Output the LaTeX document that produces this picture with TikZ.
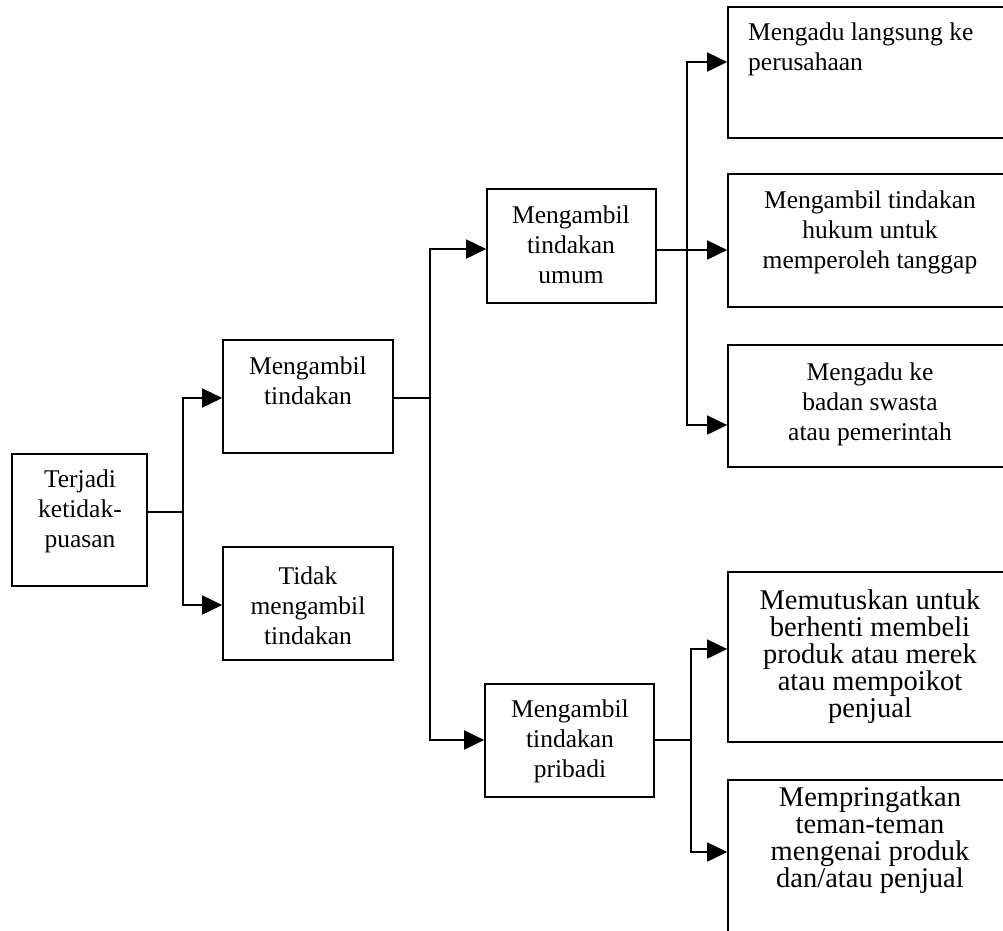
\documentclass[tikz,border=0pt]{standalone}
\usepackage{fontspec}
\setmainfont{Liberation Serif}
\usetikzlibrary{arrows.meta}
\begin{document}
\begin{tikzpicture}[x=1pt,y=-1pt,
  box/.style={draw, line width=1.6pt, rectangle, inner sep=0pt},
  txt/.style={font=\fontsize{25.5}{30}\selectfont, align=center, inner sep=0pt},
  bigtxt/.style={font=\fontsize{28.5}{27}\selectfont, align=center, inner sep=0pt},
  conn/.style={line width=1.6pt},
  arr/.style={line width=1.6pt, -{Triangle[length=20pt,width=19pt]}}]
\path[use as bounding box, clip] (0,0) rectangle (1003,930);
% boxes
\node[box, minimum width=135pt, minimum height=132pt] (b1) at (79.5,520) {};
\node[box, minimum width=170pt, minimum height=113pt] (b2) at (308,396.5) {};
\node[box, minimum width=170pt, minimum height=113pt] (b3) at (308,603.5) {};
\node[box, minimum width=169pt, minimum height=114pt] (b4) at (571.5,246) {};
\node[box, minimum width=169pt, minimum height=113pt] (b5) at (569.5,740.5) {};
\node[box, minimum width=282pt, minimum height=131pt] (b6) at (869,72.5) {};
\node[box, minimum width=282pt, minimum height=133pt] (b7) at (869,240.5) {};
\node[box, minimum width=282pt, minimum height=122pt] (b8) at (869,406) {};
\node[box, minimum width=282pt, minimum height=170pt] (b9) at (869,657) {};
\node[box, minimum width=282pt, minimum height=170pt] (b10) at (869,865) {};
% texts
\node[txt] (t1) at (80,511) {Terjadi\\ketidak-\\puasan};
\node[txt] (t2) at (308,381) {Mengambil\\tindakan};
\node[txt] (t3) at (308,606) {Tidak\\mengambil\\tindakan};
\node[txt] (t4) at (571,245) {Mengambil\\tindakan\\umum};
\node[txt] (t5) at (570,741) {Mengambil\\tindakan\\pribadi};
\node[txt, align=left, anchor=west] (t6) at (748,49) {Mengadu langsung ke\\perusahaan};
\node[txt] (t7) at (870,232) {Mengambil tindakan\\hukum untuk\\memperoleh tanggap};
\node[txt] (t8) at (870,404) {Mengadu ke\\badan swasta\\atau pemerintah};
\node[bigtxt] (t9) at (870,657) {Memutuskan untuk\\berhenti membeli\\produk atau merek\\atau mempoikot\\penjual};
\node[bigtxt] (t10) at (870,840) {Mempringatkan\\teman-teman\\mengenai produk\\dan/atau penjual};
% junctions
\coordinate (j1) at (183,512);
\coordinate (j2) at (430,398);
\coordinate (j3) at (687,250);
\coordinate (j4) at (691,740);
% level 1
\draw[conn] (j1 -| b1.east) -- (j1);
\draw[arr] (j1) |- (b2.west |- 0,398);
\draw[arr] (j1) |- (b3.west |- 0,605);
% level 2
\draw[conn] (j2 -| b2.east) -- (j2);
\draw[arr] (j2) |- (b4.west |- 0,249);
\draw[arr] (j2) |- (b5.west |- 0,740);
% level 3 top
\draw[conn] (j3 -| b4.east) -- (j3);
\draw[arr] (j3) |- (b6.west |- 0,62);
\draw[arr] (j3) -- (j3 -| b7.west);
\draw[arr] (j3) |- (b8.west |- 0,425);
% level 3 bottom
\draw[conn] (j4 -| b5.east) -- (j4);
\draw[arr] (j4) |- (b9.west |- 0,649);
\draw[arr] (j4) |- (b10.west |- 0,852);
\end{tikzpicture}
\end{document}
